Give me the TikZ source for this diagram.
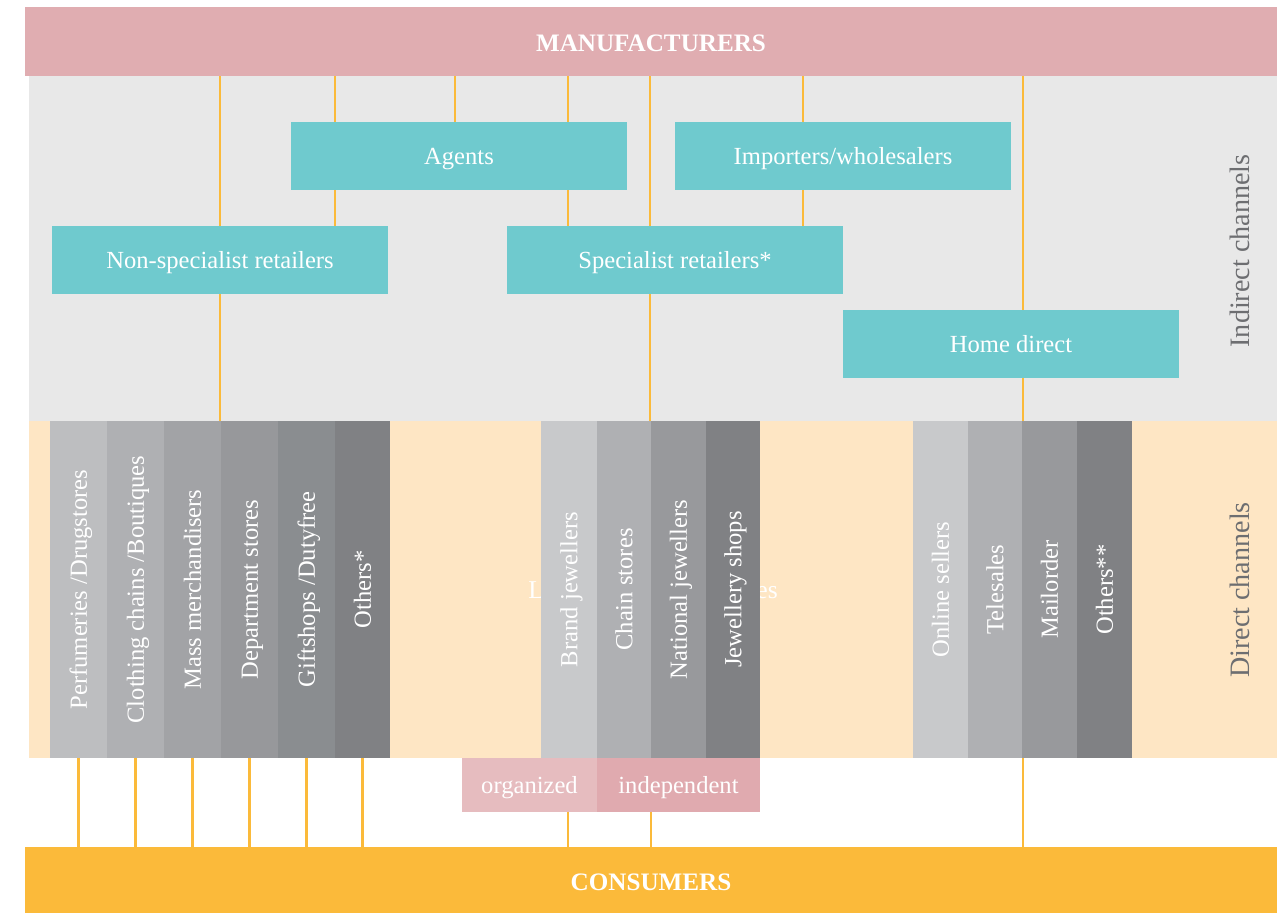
\documentclass[tikz,border=0pt]{standalone}
\usepackage{fontspec}
\setmainfont{Liberation Serif}
\usepackage{tikz}
\definecolor{mfrpink}{HTML}{E0ADB1}
\definecolor{bandgrey}{HTML}{E8E8E8}
\definecolor{bandorange}{HTML}{FEE6C4}
\definecolor{teal}{HTML}{6FCACE}
\definecolor{feedorange}{HTML}{FBBA3A}
\definecolor{labelgrey}{HTML}{6D6E71}
\definecolor{orgpink}{HTML}{E6BCBF}
\definecolor{indpink}{HTML}{E0AAAF}
\definecolor{colA}{HTML}{BDBEC0}
\definecolor{colB}{HTML}{AFB0B3}
\definecolor{colC}{HTML}{A2A3A6}
\definecolor{colD}{HTML}{97989B}
\definecolor{colE}{HTML}{8A8D90}
\definecolor{colF}{HTML}{808184}
\definecolor{colL}{HTML}{C8C9CB}
\definecolor{colM}{HTML}{98999C}
\tikzset{
  bodyfont/.style={font=\fontsize{14}{16}\selectfont, text height=9.5pt, text depth=0pt},
  bar/.style={inner sep=0pt, minimum width=25.04cm, text=white, font=\fontsize{14.3}{16}\selectfont\bfseries, text height=11.7pt, text depth=0pt},
  band/.style={inner sep=0pt, minimum width=24.96cm},
  channel/.style={bodyfont, fill=teal, text=white, inner sep=0pt, minimum width=6.72cm, minimum height=1.36cm},
  outlet/.style={bodyfont, text=white, inner sep=0pt, rotate=90, minimum width=6.74cm},
  splitbox/.style={bodyfont, text=white, inner sep=0pt, minimum height=1.08cm},
  sidelabel/.style={font=\fontsize{16}{18}\selectfont, text=labelgrey, rotate=90},
  feed/.style={draw=feedorange, line width=1.5pt},
}

\begin{document}
\begin{tikzpicture}[x=0.02cm, y=-0.02cm]
\useasboundingbox (0,0) rectangle (1284,913);

% bands
\node (indirect) [band, fill=bandgrey, minimum height=6.9cm] at (653,248.5) {};
\node (direct) [band, fill=bandorange, minimum height=6.74cm] at (653,589.5) {};
\node (mfr) [bar, fill=mfrpink, minimum height=1.38cm] at (651,41.5) {MANUFACTURERS};
\node (cons) [bar, fill=feedorange, minimum height=1.32cm] at (651,880) {CONSUMERS};

\node (indlabel) [sidelabel] at (1240,251) {Indirect channels};
\node (dirlabel) [sidelabel] at (1240,590) {Direct channels};

% indirect channels
\node (agents) [channel] at (459,156) {Agents};
\node (importers) [channel] at (843,156) {Importers/wholesalers};
\node (nonspec) [channel] at (220,260) {Non-specialist retailers};
\node (spec) [channel] at (675,260) {Specialist retailers*};
\node (home) [channel] at (1011,344) {Home direct};

% feeds from the manufacturers
\draw[feed] (mfr.south -| 220,0) -- (nonspec.north -| 220,0);
\draw[feed] (nonspec.south -| 220,0) -- (direct.north -| 220,0);
\draw[feed] (mfr.south -| 335,0) -- (agents.north -| 335,0);
\draw[feed] (agents.south -| 335,0) -- (nonspec.north -| 335,0);
\draw[feed] (mfr.south -| 455,0) -- (agents.north -| 455,0);
\draw[feed] (mfr.south -| 568,0) -- (agents.north -| 568,0);
\draw[feed] (agents.south -| 568,0) -- (spec.north -| 568,0);
\draw[feed] (mfr.south -| 650,0) -- (spec.north -| 650,0);
\draw[feed] (spec.south -| 650,0) -- (direct.north -| 650,0);
\draw[feed] (mfr.south -| 803,0) -- (importers.north -| 803,0);
\draw[feed] (importers.south -| 803,0) -- (spec.north -| 803,0);
\draw[feed] (mfr.south -| 1023,0) -- (home.north -| 1023,0);
\draw[feed] (home.south -| 1023,0) -- (direct.north -| 1023,0);

% direct channels
\node (lux) [font=\fontsize{14.6}{16}\selectfont, text=white, anchor=west, inner sep=0pt] at (528,592) {Luxury goods boutiques};

\node (perf) [outlet, fill=colA, minimum height=1.14cm] at (78.5,589.5) {Perfumeries /Drugstores};
\node (cloth) [outlet, fill=colB, minimum height=1.14cm] at (135.5,589.5) {Clothing chains /Boutiques};
\node (mass) [outlet, fill=colC, minimum height=1.14cm] at (192.5,589.5) {Mass merchandisers};
\node (dept) [outlet, fill=colD, minimum height=1.14cm] at (249.5,589.5) {Department stores};
\node (gift) [outlet, fill=colE, minimum height=1.14cm] at (306.5,589.5) {Giftshops /Dutyfree};
\node (oth1) [outlet, fill=colF, minimum height=1.1cm] at (362.5,589.5) {Others*};

\node (brand) [outlet, fill=colL, minimum height=1.12cm] at (569,589.5) {Brand jewellers};
\node (chain) [outlet, fill=colB, minimum height=1.08cm] at (624,589.5) {Chain stores};
\node (nat) [outlet, fill=colM, minimum height=1.1cm] at (678.5,589.5) {National jewellers};
\node (shops) [outlet, fill=colF, minimum height=1.08cm] at (733,589.5) {Jewellery shops};

\node (online) [outlet, fill=colL, minimum height=1.1cm] at (940.5,589.5) {Online sellers};
\node (tele) [outlet, fill=colB, minimum height=1.08cm] at (995,589.5) {Telesales};
\node (mail) [outlet, fill=colM, minimum height=1.1cm] at (1049.5,589.5) {Mailorder};
\node (oth2) [outlet, fill=colF, minimum height=1.1cm] at (1104.5,589.5) {Others**};

\node (org) [splitbox, fill=orgpink, minimum width=2.7cm] at (529.5,785) {organized};
\node (indep) [splitbox, fill=indpink, minimum width=3.26cm] at (678.5,785) {independent};

% feeds to the consumers
\draw[feed] (perf |- direct.south) -- (perf |- cons.north);
\draw[feed] (cloth |- direct.south) -- (cloth |- cons.north);
\draw[feed] (mass |- direct.south) -- (mass |- cons.north);
\draw[feed] (dept |- direct.south) -- (dept |- cons.north);
\draw[feed] (gift |- direct.south) -- (gift |- cons.north);
\draw[feed] (oth1 |- direct.south) -- (oth1 |- cons.north);
\draw[feed] (org.south -| 568,0) -- (cons.north -| 568,0);
\draw[feed] (indep.south -| 651,0) -- (cons.north -| 651,0);
\draw[feed] (direct.south -| 1023,0) -- (cons.north -| 1023,0);
\end{tikzpicture}
\end{document}
